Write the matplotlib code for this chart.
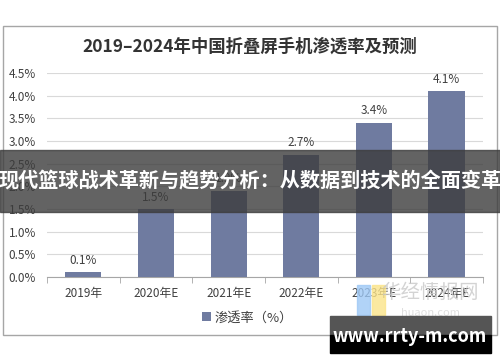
import matplotlib.pyplot as plt
from matplotlib.patches import Rectangle

plt.rcParams['font.family'] = ['Noto Sans CJK SC', 'DejaVu Sans']

# data
years = ['2019年', '2020年E', '2021年E', '2022年E', '2023年E', '2024年E']
rate = [0.1, 1.5, 1.9, 2.7, 3.4, 4.1]
y_ticks = [0.0, 0.5, 1.0, 1.5, 2.0, 2.5, 3.0, 3.5, 4.0, 4.5]

bar_color = '#6F7BA0'

fig = plt.figure(figsize=(5, 3.62), dpi=100)
fig.patch.set_facecolor('white')

# chart frame
fig.patches.append(Rectangle((3 / 500, 1 - 335 / 362), 494 / 500, 309 / 362,
                             transform=fig.transFigure, fill=False,
                             edgecolor='#A6A6A6', lw=1))

fig.text(0.5, 1 - 47 / 362, '2019–2024年中国折叠屏手机渗透率及预测',
         ha='center', va='center', fontsize=12.5, fontweight='bold', color='#333333')

ax = fig.add_axes([47 / 500, 1 - 277 / 362, 436 / 500, 204 / 362])
x = range(len(years))
bars = ax.bar(x, rate, width=0.5, color=bar_color, label='渗透率（%）', zorder=3)
for xi, v in zip(x, rate):
    ax.text(xi, v + 0.12, f'{v:.1f}%', ha='center', va='bottom', fontsize=8.5, color='#404040')

ax.set_xlim(-0.5, len(years) - 0.5)
ax.set_ylim(0, 4.5)
ax.set_yticks(y_ticks)
ax.set_yticklabels([f'{t:.1f}%' for t in y_ticks], fontsize=8.5, color='#404040')
ax.set_xticks(x)
ax.set_xticklabels(years, fontsize=8.5, color='#404040')
ax.set_xticks([i + 0.5 for i in range(-1, len(years))], minor=True)
ax.tick_params(axis='x', which='major', length=0, pad=7)
ax.tick_params(axis='x', which='minor', length=4, color='#A6A6A6')
ax.tick_params(axis='y', length=0, pad=8)
ax.grid(axis='y', color='#D9D9D9', lw=0.8, zorder=0)
for s in ['top', 'right', 'left']:
    ax.spines[s].set_visible(False)
ax.spines['bottom'].set_color('#A6A6A6')

ax.legend(loc='center', bbox_to_anchor=(0.46, -0.2), frameon=False, fontsize=9.5,
          handlelength=0.7, handleheight=0.7, handletextpad=0.3,
          labelcolor='#404040')

# watermark
fig.text(430 / 500, 1 - 292 / 362, '华经情报网', ha='center', va='center',
         fontsize=14, color='#C8C8C8', alpha=0.8)
fig.text(430 / 500, 1 - 313 / 362, 'huaon.com', ha='center', va='center',
         fontsize=8, color='#D8D8D8', alpha=0.8)
fig.patches.append(Rectangle((357 / 500, 1 - 315 / 362), 13 / 500, 30 / 362,
                             transform=fig.transFigure, color='#9EC8F5', alpha=0.8))
fig.patches.append(Rectangle((372 / 500, 1 - 315 / 362), 13 / 500, 30 / 362,
                             transform=fig.transFigure, color='#FBE48A', alpha=0.8))

# banner overlay
fig.patches.append(Rectangle((0, 1 - 212 / 362), 1, 62 / 362,
                             transform=fig.transFigure, color='#3C3C3C', alpha=0.8, zorder=10))
fig.text(0.5, 1 - 181 / 362, '现代篮球战术革新与趋势分析：从数据到技术的全面变革',
         ha='center', va='center', fontsize=14.5, fontweight='bold', color='white', zorder=11)

# site box
fig.patches.append(Rectangle((330 / 500, 1 - 335 / 362), 161 / 500, 19 / 362,
                             transform=fig.transFigure, color='#555555', zorder=10))
fig.patches.append(Rectangle((330 / 500, 1 - 353 / 362), 161 / 500, 18 / 362,
                             transform=fig.transFigure, color='black', zorder=10))
fig.text(410 / 500, 1 - 336 / 362, 'www.rrty-m.com', ha='center', va='center',
         fontsize=13, fontweight='bold', color='white', zorder=11)

fig.savefig('out.png', dpi=100)
